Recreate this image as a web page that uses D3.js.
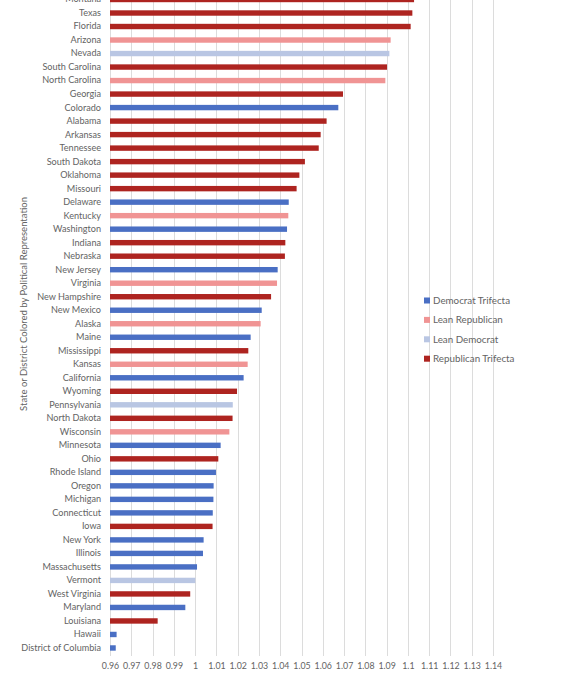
<!DOCTYPE html>
<html>
<head>
<meta charset="utf-8">
<script src="https://cdn.jsdelivr.net/npm/d3@7"></script>
<style>
  body { margin: 0; background: #fff; }
  svg { display: block; }
  text { font-family: Lato, "Open Sans", sans-serif; fill: #636363; }
</style>
</head>
<body>
<svg id="chart" width="570" height="675"></svg>
<script>
const states = ["Montana","Texas","Florida","Arizona","Nevada","South Carolina","North Carolina","Georgia","Colorado","Alabama","Arkansas","Tennessee","South Dakota","Oklahoma","Missouri","Delaware","Kentucky","Washington","Indiana","Nebraska","New Jersey","Virginia","New Hampshire","New Mexico","Alaska","Maine","Mississippi","Kansas","California","Wyoming","Pennsylvania","North Dakota","Wisconsin","Minnesota","Ohio","Rhode Island","Oregon","Michigan","Connecticut","Iowa","New York","Illinois","Massachusetts","Vermont","West Virginia","Maryland","Louisiana","Hawaii","District of Columbia"];
const values = [1.1029,1.1021,1.1013,1.0919,1.0913,1.0902,1.0894,1.0695,1.0673,1.0618,1.0590,1.0581,1.0516,1.0490,1.0477,1.0440,1.0438,1.0432,1.0424,1.0422,1.0388,1.0385,1.0357,1.0313,1.0308,1.0261,1.0250,1.0247,1.0228,1.0197,1.0177,1.0176,1.0161,1.0120,1.0109,1.0098,1.0087,1.0086,1.0083,1.0082,1.0040,1.0037,1.0009,1.0001,0.9977,0.9954,0.9824,0.9631,0.9627];
const groups = ["R","R","R","LR","LD","R","LR","R","D","R","R","R","R","R","R","D","LR","D","R","R","D","LR","R","D","LR","D","R","LR","D","R","LD","R","LR","D","R","D","D","D","D","R","D","D","D","LD","R","D","R","D","D"];
const legendKeys = ["D","LR","LD","R"];
const legendLabels = ["Democrat Trifecta","Lean Republican","Lean Democrat","Republican Trifecta"];
const groupColors = ["#4a6fc4","#f09494","#b9c6e3","#ae2420"];
const xTicks = [0.96,0.97,0.98,0.99,1,1.01,1.02,1.03,1.04,1.05,1.06,1.07,1.08,1.09,1.1,1.11,1.12,1.13,1.14];
const axisTitle = "State or District Colored by Political Representation";

const svg = d3.select("#chart");
const color = d3.scaleOrdinal().domain(legendKeys).range(groupColors);

const x = d3.scaleLinear().domain([0.96, 1.14]).range([110, 493]);
const step = 13.51;
const top0 = -0.5 - step / 2;
const y = d3.scaleBand().domain(states).range([top0, top0 + step * states.length])
  .paddingInner(0.6).paddingOuter(0.3);

// gridlines
svg.append("g").selectAll("line").data(xTicks).join("line")
  .attr("x1", d => Math.round(x(d)) + 0.5).attr("x2", d => Math.round(x(d)) + 0.5)
  .attr("y1", 0).attr("y2", 656)
  .attr("stroke", "#dcdcdc").attr("stroke-width", 1);

// bars
const data = states.map((s, i) => ({ s, v: values[i], g: groups[i] }));
svg.append("g").selectAll("rect").data(data).join("rect")
  .attr("x", x(0.96))
  .attr("y", d => y(d.s))
  .attr("width", d => x(d.v) - x(0.96))
  .attr("height", y.bandwidth())
  .attr("fill", d => color(d.g));

// category axis
const yAxis = d3.axisLeft(y).tickSize(0).tickPadding(9);
const gy = svg.append("g").attr("transform", "translate(110,0)").call(yAxis);
gy.select(".domain").remove();
gy.selectAll("text").attr("font-size", "9.1px").style("fill", "#636363")
  .attr("font-family", "Lato, sans-serif");

// x axis
const xAxis = d3.axisBottom(x).tickValues(xTicks).tickSize(0).tickPadding(0)
  .tickFormat(d => d3.format("")(+d.toFixed(2)));
const gx = svg.append("g").attr("transform", "translate(0,663)").call(xAxis);
gx.select(".domain").remove();
gx.selectAll("text").attr("font-size", "8.8px").attr("dy", "0.71em").style("fill", "#636363")
  .attr("font-family", "Lato, sans-serif");

// axis title
svg.append("text")
  .attr("transform", "translate(27,304) rotate(-90)")
  .attr("text-anchor", "middle")
  .attr("font-size", "9.5px")
  .text(axisTitle);

// legend
const lg = svg.append("g");
legendKeys.forEach((k, i) => {
  const yy = 300.5 + i * 19.4;
  lg.append("rect").attr("x", 424).attr("y", yy - 3).attr("width", 6).attr("height", 6)
    .attr("fill", color(k));
  lg.append("text").attr("x", 433).attr("y", yy).attr("dy", "0.35em")
    .attr("font-size", "9.8px").text(legendLabels[i]);
});
</script>
</body>
</html>
